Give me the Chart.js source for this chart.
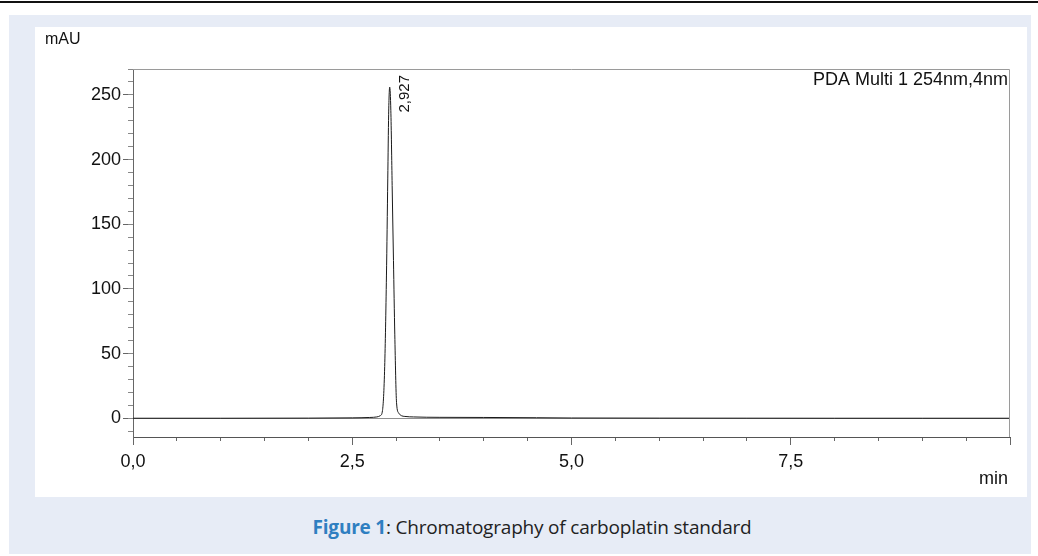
<!DOCTYPE html>
<html>
<head>
<meta charset="utf-8">
<script src="https://cdn.jsdelivr.net/npm/chart.js@4.4.1/dist/chart.umd.min.js"></script>
<style>
  html, body { margin: 0; padding: 0; background: #fff; }
  body { width: 1038px; height: 556px; position: relative; overflow: hidden; }
  #rule { position: absolute; left: 0; top: 1px; width: 1038px; height: 2px; background: #111; }
  #panel { position: absolute; left: 9px; top: 15px; width: 1022px; height: 539px; background: #e7ecf6; }
  #box { position: absolute; left: 35px; top: 27px; width: 992px; height: 470px; background: #fff; }
  #caption { position: absolute; left: 0; top: 514px; width: 1064px; text-align: center;
    font-family: "Open Sans", sans-serif; font-size: 19px; color: #222; letter-spacing: -0.2px; }
  #caption b { color: #2f7fc1; }
</style>
</head>
<body>
<div id="rule"></div>
<div id="panel"></div>
<div id="box"><canvas id="chart" width="992" height="470"></canvas></div>
<div id="caption"><b>Figure 1</b>: Chromatography of carboplatin standard</div>
<script>
// retention time (min) and detector response (mAU)
var times = [0, 1.0, 2.0, 2.5, 2.7, 2.78, 2.82, 2.845, 2.87, 2.89, 2.905, 2.915, 2.927, 2.94, 2.955,
  2.97, 2.985, 3.005, 3.03, 3.06, 3.1, 3.2, 3.5, 4.0, 4.6, 5.0, 6.0, 7.0, 8.0, 9.0, 10.0];
var absorbance = [0, 0, 0.1, 0.3, 0.6, 1.0, 2.0, 6, 40, 110, 185, 235, 256, 238, 180,
  122, 65, 12, 4, 2, 1.4, 1.0, 0.7, 0.6, 0.4, 0.2, 0.1, 0.05, 0, 0, 0];
var peakTime = 2.927;
var channelName = 'PDA Multi 1 254nm,4nm';

var points = times.map(function (t, i) { return { x: t, y: absorbance[i] }; });

function comma(v, digits) {
  return v.toFixed(digits).replace('.', ',');
}

var labelFont = '"Liberation Sans", Arial, sans-serif';

// axis captions, channel name and the peak retention label
var annotations = {
  id: 'annotations',
  afterDatasetsDraw: function (chart) {
    var ctx = chart.ctx;
    var area = chart.chartArea;
    var xs = chart.scales.x;
    ctx.save();
    // top and right frame
    ctx.strokeStyle = '#9a9a9a';
    ctx.lineWidth = 1;
    ctx.beginPath();
    ctx.moveTo(area.left, area.top + 0.5);
    ctx.lineTo(area.right - 0.5, area.top + 0.5);
    ctx.lineTo(area.right - 0.5, area.bottom);
    ctx.stroke();

    ctx.fillStyle = '#111';
    ctx.font = '16px ' + labelFont;
    ctx.textBaseline = 'middle';
    ctx.textAlign = 'left';
    ctx.fillText('mAU', 10, 13);
    ctx.font = '18px ' + labelFont;
    ctx.textAlign = 'right';
    ctx.fillText('min', area.right - 2, area.bottom + 42);
    ctx.fillText(channelName, area.right - 2, area.top + 11);

    // rotated retention time next to the peak
    ctx.font = '15px ' + labelFont;
    ctx.translate(xs.getPixelForValue(peakTime) + 15, area.top + 6);
    ctx.rotate(-Math.PI / 2);
    ctx.textAlign = 'right';
    ctx.fillText(comma(peakTime, 3), 0, 0);
    ctx.restore();
  }
};

function keepMultiples(step) {
  return function (scale) {
    scale.ticks = scale.ticks.filter(function (t) {
      return Math.abs(t.value / step - Math.round(t.value / step)) < 1e-6;
    });
  };
}

new Chart(document.getElementById('chart'), {
  type: 'line',
  data: {
    datasets: [{
      data: points,
      borderColor: '#1a1a1a',
      borderWidth: 1,
      pointRadius: 0,
      cubicInterpolationMode: 'monotone',
      fill: false
    }]
  },
  options: {
    animation: false,
    responsive: false,
    layout: { padding: { top: 42, right: 17, left: 0, bottom: 0 } },
    plugins: { legend: { display: false }, tooltip: { enabled: false } },
    scales: {
      x: {
        type: 'linear', position: 'bottom', min: 0, max: 10, weight: 1,
        afterBuildTicks: keepMultiples(2.5),
        afterFit: function (s) { s.height = 60; },
        ticks: {
          stepSize: 2.5, padding: 6, maxRotation: 0, autoSkip: false, includeBounds: false,
          color: '#111', font: { family: labelFont, size: 18 },
          callback: function (v) { return v === 10 ? '' : comma(v, 1); }
        },
        grid: { drawOnChartArea: false, tickLength: 8, tickColor: '#666' },
        border: { color: '#555', width: 1 }
      },
      xMinor: {
        type: 'linear', position: 'bottom', min: 0, max: 10, weight: 0,
        afterBuildTicks: keepMultiples(0.5),
        afterFit: function (s) { s.height = 0; },
        ticks: { stepSize: 0.5, display: false, autoSkip: false, includeBounds: false },
        grid: { drawOnChartArea: false, tickLength: 4, tickColor: '#666' },
        border: { display: false }
      },
      y: {
        type: 'linear', position: 'left', min: -14.5, max: 270, weight: 1,
        afterBuildTicks: keepMultiples(50),
        afterFit: function (s) { s.width = 98; },
        ticks: {
          stepSize: 50, padding: 2, color: '#111', includeBounds: false,
          font: { family: labelFont, size: 18 }
        },
        grid: {
          tickLength: 10, tickColor: '#666',
          color: function (c) { return c.tick && c.tick.value === 0 ? '#8f8f8f' : 'rgba(0,0,0,0)'; }
        },
        border: { color: '#666', width: 1 }
      },
      yMinor: {
        type: 'linear', position: 'left', min: -14.5, max: 270, weight: 0,
        afterBuildTicks: keepMultiples(10),
        afterFit: function (s) { s.width = 0; },
        ticks: { stepSize: 10, display: false, autoSkip: false, includeBounds: false },
        grid: { drawOnChartArea: false, tickLength: 5, tickColor: '#888' },
        border: { display: false }
      }
    }
  },
  plugins: [annotations]
});
</script>
</body>
</html>
